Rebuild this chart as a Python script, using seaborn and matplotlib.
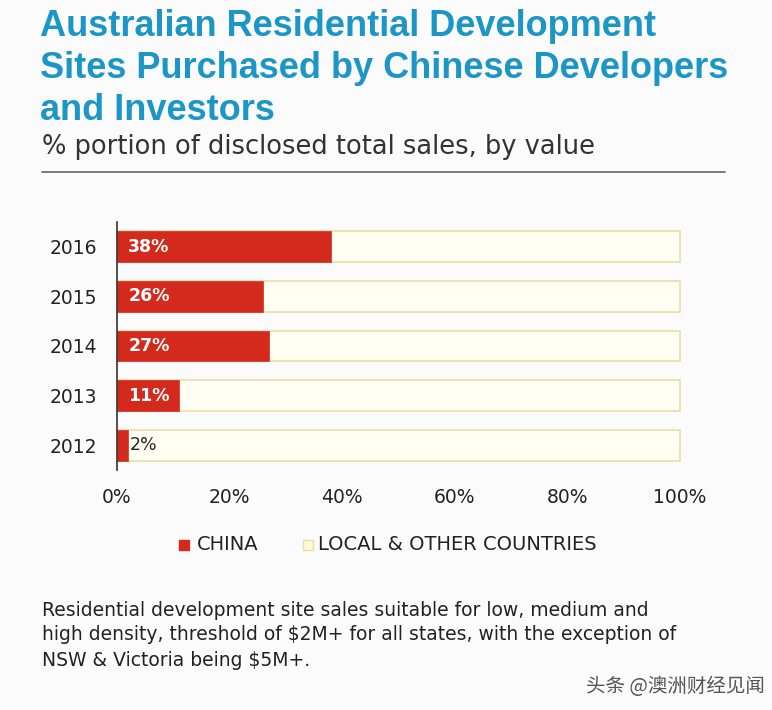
import seaborn as sns
import matplotlib.pyplot as plt
import pandas as pd

# data
years = ['2016', '2015', '2014', '2013', '2012']
china_pct = [38, 26, 27, 11, 2]
total_pct = [100, 100, 100, 100, 100]
x_ticks = [0, 20, 40, 60, 80, 100]

df = pd.DataFrame({'Year': years, 'China': china_pct, 'Total': total_pct})

sns.set_style('white')
plt.rcParams['font.family'] = ['DejaVu Sans', 'Noto Sans CJK SC']

RED = '#d42a1e'
PALE = '#fffff2'
PALE_EDGE = '#e9dfa6'
BLUE = '#1b96c6'
TXT = '#222222'

fig = plt.figure(figsize=(7.72, 7.10), dpi=100)
fig.patch.set_facecolor('#fbfbfb')
ax = fig.add_axes([117 / 772, 1 - 470 / 710, 566 / 772, 248 / 710])
ax.set_facecolor('#fbfbfb')

# full-width background bars, then the China share on top
sns.barplot(x='Total', y='Year', data=df, orient='h', ax=ax, color=PALE,
            edgecolor=PALE_EDGE, linewidth=1.2, width=0.62, saturation=1)
sns.barplot(x='China', y='Year', data=df, orient='h', ax=ax, color=RED,
            edgecolor=RED, linewidth=0.5, width=0.62, saturation=1)

for i, v in enumerate(china_pct):
    if v >= 5:
        ax.text(2.0, i, f'{v}%', color='white', fontsize=12.5, fontweight='bold',
                va='center', ha='left')
    else:
        ax.text(v + 0.3, i, f'{v}%', color=TXT, fontsize=12.5,
                va='center', ha='left')

ax.set_xlim(0, 100.5)
ax.set_ylim(4.5, -0.5)
ax.set_xticks(x_ticks)
ax.set_xticklabels([f'{t}%' for t in x_ticks], fontsize=13.5, color=TXT)
ax.tick_params(axis='x', length=0, pad=13)
ax.tick_params(axis='y', length=0, pad=14, labelsize=13.5, labelcolor=TXT)
ax.set_xlabel('')
ax.set_ylabel('')
for s in ['top', 'right', 'bottom']:
    ax.spines[s].set_visible(False)
ax.spines['left'].set_color('#333333')
ax.spines['left'].set_linewidth(1.2)

# titles
fig.text(40 / 772, 1 - 9 / 710, 'Australian Residential Development\n'
         'Sites Purchased by Chinese Developers\nand Investors',
         color=BLUE, fontsize=26, fontweight='bold', va='top', ha='left',
         linespacing=1.26, family=['Liberation Sans', 'DejaVu Sans'])
fig.text(42 / 772, 1 - 147 / 710, '% portion of disclosed total sales, by value',
         color='#333333', fontsize=18.5, va='center', ha='left')
fig.add_artist(plt.Line2D([42 / 772, 725 / 772], [1 - 172 / 710, 1 - 172 / 710],
                          color='#666666', linewidth=1.2))

# legend
fig.patches.append(plt.Rectangle((179 / 772, 1 - 550 / 710), 10 / 772, 10 / 710,
                                 color=RED, transform=fig.transFigure))
fig.text(197 / 772, 1 - 545 / 710, 'CHINA', fontsize=14, va='center', color=TXT)
fig.patches.append(plt.Rectangle((303 / 772, 1 - 550 / 710), 10 / 772, 10 / 710,
                                 facecolor='#fdf9d0', edgecolor=PALE_EDGE,
                                 transform=fig.transFigure))
fig.text(318 / 772, 1 - 545 / 710, 'LOCAL & OTHER COUNTRIES', fontsize=14,
         va='center', color=TXT)

# footnote
fig.text(42 / 772, 1 - 635 / 710,
         'Residential development site sales suitable for low, medium and\n'
         'high density, threshold of $2M+ for all states, with the exception of\n'
         'NSW & Victoria being $5M+.',
         fontsize=13.5, va='center', ha='left', color=TXT, linespacing=1.4)

# watermark
fig.text(765 / 772, 1 - 686 / 710, '头条 @澳洲财经见闻', fontsize=14,
         va='center', ha='right', color='#555555',
         family=['Noto Sans CJK SC', 'DejaVu Sans'])

fig.savefig('out.png', dpi=100, facecolor=fig.get_facecolor())
